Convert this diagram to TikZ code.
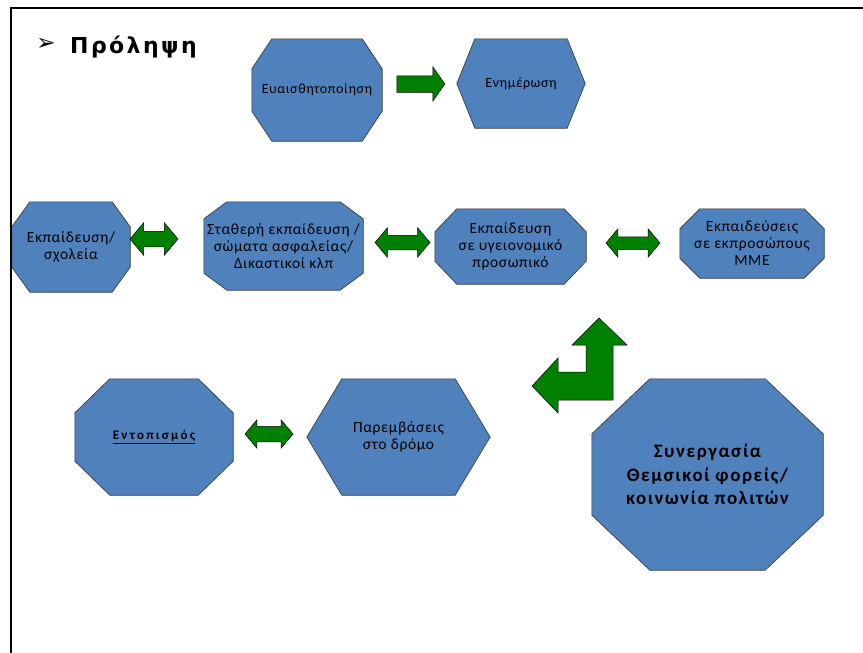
\documentclass[tikz,border=0pt]{standalone}
\usepackage{fontspec}
\usepackage{tikz}
\usetikzlibrary{shapes.arrows}
\usetikzlibrary{backgrounds}
\newfontfamily\boxfont[LetterSpace=4]{Carlito}
\newfontfamily\widefont[LetterSpace=8]{Carlito}
\newfontfamily\spacedfont[LetterSpace=17]{Carlito}
\newfontfamily\titlefont[LetterSpace=11]{DejaVu Sans}
\newfontfamily\symfont{DejaVu Sans}
\definecolor{ppBlue}{RGB}{79, 129, 189}
\definecolor{ppGreen}{RGB}{0, 128, 0}

%Achteck und Sechseck um einen Knoten (Knoten, Schnitt x, Schnitt y)
\newcommand{\octa}[3]{\filldraw[form] ([xshift=#2]#1.north west) -- ([xshift=-#2]#1.north east)
  -- ([yshift=-#3]#1.north east) -- ([yshift=#3]#1.south east) -- ([xshift=-#2]#1.south east)
  -- ([xshift=#2]#1.south west) -- ([yshift=#3]#1.south west) -- ([yshift=-#3]#1.north west) -- cycle;}
\newcommand{\hexa}[2]{\filldraw[form] ([xshift=#2]#1.north west) -- ([xshift=-#2]#1.north east)
  -- (#1.east) -- ([xshift=-#2]#1.south east) -- ([xshift=#2]#1.south west) -- (#1.west) -- cycle;}

\begin{document}
\begin{tikzpicture} [
    x=1pt, y=-1pt,
    shp/.style      = { rectangle, inner sep=0pt, align=center,
                        font=\boxfont\fontsize{15.5}{17}\selectfont},
    form/.style     = { draw=black!80, fill=ppBlue, line width=0.6pt},
    larrow/.style   = { draw=black, fill=ppGreen, line width=0.5pt},
    dblarrow/.style = { double arrow, larrow, inner sep=7pt, minimum width=29pt,
                        double arrow head extend=7.5pt, double arrow tip angle=100},
  ]
  \useasboundingbox (0,0) rectangle (863,653);

%Rahmen und Titel
  \draw[line width=2pt] (11,653) -- (11,8) -- (863,8);
  \node[inner sep=0pt, font=\symfont\fontsize{23}{24}\selectfont] (bullet) at (46,44) {➢};
  \node[anchor=base west, inner sep=0pt, font=\titlefont\bfseries\fontsize{22}{24}\selectfont]
        (title) at (70,53) {Πρόληψη};

%Knoten
  \node[shp, minimum width=130pt, minimum height=102pt, font=\boxfont\fontsize{14}{16}\selectfont]
        (sens) at (317,90) {Ευαισθητοποίηση};
  \node[shp, minimum width=128pt, minimum height=89pt, font=\boxfont\fontsize{14}{16}\selectfont]
        (info) at (521,83.5) {Ενημέρωση};
  \node[shp, minimum width=118pt, minimum height=90pt] (school) at (71,247)
        {Εκπαίδευση/\\σχολεία};
  \node[shp, minimum width=159pt, minimum height=88pt] (police) at (283.5,246)
        {Σταθερή εκπαίδευση /\\σώματα ασφαλείας/\\Δικαστικοί κλπ};
  \node[shp, minimum width=151pt, minimum height=75pt] (health) at (510.5,246.5)
        {Εκπαίδευση\\σε υγειονομικό\\προσωπικό};
  \node[shp, minimum width=144pt, minimum height=69pt] (media) at (752,243.5)
        {Εκπαιδεύσεις\\σε εκπροσώπους\\ΜΜΕ};
  \node[shp, minimum width=158pt, minimum height=116pt, font=\spacedfont\bfseries\fontsize{13}{15}\selectfont]
        (detect) at (154,437) {\underline{Εντοπισμός}};
  \node[shp, minimum width=183pt, minimum height=116pt] (street) at (398.5,437)
        {Παρεμβάσεις\\στο δρόμο};
  \node[shp, minimum width=231pt, minimum height=191pt, font=\widefont\bfseries\fontsize{19}{23.5}\selectfont]
        (coop) at (707.5,474.5) {Συνεργασία\\Θεμσικοί φορείς/\\κοινωνία πολιτών};

  \begin{scope}[on background layer]
   \octa{sens}{20pt}{30pt}
   \hexa{info}{18pt}
   \octa{school}{18pt}{25pt}
   \octa{police}{23pt}{17pt}
   \octa{health}{22pt}{23pt}
   \octa{media}{20pt}{20pt}
   \octa{detect}{35pt}{34pt}
   \hexa{street}{35pt}
   \octa{coop}{58pt}{55pt}
  \end{scope}

%gruene Pfeile
  \node[single arrow, larrow, inner sep=8pt, minimum width=34pt, minimum height=48pt,
        single arrow head extend=9pt, single arrow tip angle=110] (a0) at (418,84) {};
  \node[dblarrow, inner sep=7.5pt, minimum height=48pt, minimum width=32pt,
        double arrow head extend=8.5pt] (a1) at (154,239) {};
  \node[dblarrow, minimum height=55pt] (a2) at (402.5,242.5) {};
  \node[dblarrow, inner sep=6pt, minimum height=54pt, minimum width=28pt,
        double arrow head extend=8pt] (a3) at (633,243) {};
  \node[dblarrow, inner sep=7.5pt, minimum height=48pt, minimum width=28pt,
        double arrow head extend=6.5pt] (a4) at (269,434) {};
  \filldraw[larrow] (599,318) -- (627,345) -- (613,345) -- (613,400) -- (558,400) -- (558,413)
        -- (532,386) -- (558,358) -- (558,372) -- (586,372) -- (586,345) -- (572,345) -- cycle;
\end{tikzpicture}
\end{document}
